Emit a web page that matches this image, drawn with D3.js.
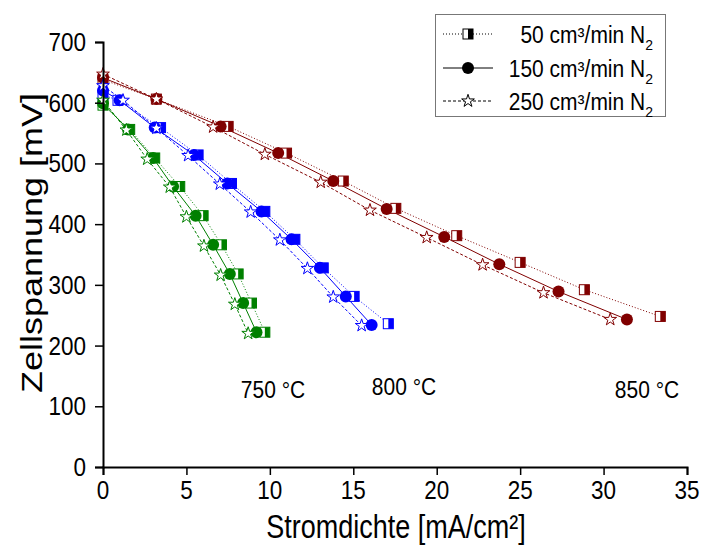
<!DOCTYPE html>
<html>
<head>
<meta charset="utf-8">
<script src="https://cdn.jsdelivr.net/npm/d3@7"></script>
<style>
  html, body { margin: 0; padding: 0; background: #fff; }
  svg { display: block; font-family: "Liberation Sans", Arial, sans-serif; }
</style>
</head>
<body>
<svg id="chart" width="701" height="545"></svg>
<script>
// Temperatures (one colour each) and N2 flow rates (one marker/line style each)
const temps = ["750 °C", "800 °C", "850 °C"];
const tempColors = ["#008000", "#0000ff", "#800000"];
const flows = ["50", "150", "250"];

// 750 °C
const g50_x  = [0, 1.6, 3.1, 4.6, 6.0, 7.1, 8.1, 8.9, 9.7];
const g50_y  = [596, 556, 509, 462, 414, 366, 318, 270, 222];
const g150_x = [0, 1.5, 3.0, 4.2, 5.55, 6.6, 7.6, 8.4, 9.2];
const g150_y = [599, 556, 509, 462, 414, 366, 318, 270, 222];
const g250_x = [0, 1.4, 2.65, 4.0, 5.0, 6.05, 7.05, 7.9, 8.7];
const g250_y = [604, 555, 507, 461, 412, 364, 316, 268, 220];

// 800 °C
const b50_x  = [0, 0.9, 3.45, 5.7, 7.7, 9.7, 11.5, 13.2, 15.05, 17.1];
const b50_y  = [613, 604, 559, 514, 467, 421, 375, 328, 281, 236];
const b150_x = [0, 1.0, 3.1, 5.45, 7.45, 9.5, 11.3, 13.0, 14.55, 16.1];
const b150_y = [620, 604, 559, 514, 467, 421, 375, 328, 281, 234];
const b250_x = [0, 1.2, 3.2, 5.1, 7.0, 8.85, 10.6, 12.25, 13.8, 15.5];
const b250_y = [628, 604, 558, 513, 466, 420, 374, 327, 280, 233];

// 850 °C
const r50_x  = [0, 3.2, 7.5, 11.0, 14.4, 17.55, 21.2, 25.0, 28.85, 33.4];
const r50_y  = [638, 606, 561, 517, 471, 426, 381, 337, 292, 248];
const r150_x = [0, 3.2, 7.05, 10.5, 13.8, 17.0, 20.45, 23.75, 27.3, 31.4];
const r150_y = [641, 606, 561, 517, 471, 425, 379, 334, 289, 243];
const r250_x = [0, 3.2, 6.6, 9.7, 13.05, 16.0, 19.4, 22.75, 26.4, 30.4];
const r250_y = [647, 606, 560, 515, 469, 423, 378, 333, 287, 243];

const xTicks = [0, 5, 10, 15, 20, 25, 30, 35];
const yTicks = [0, 100, 200, 300, 400, 500, 600, 700];

// series table: [temperature index, flow index, x values, y values]
const series = [
  [0, 0, g50_x, g50_y], [0, 1, g150_x, g150_y], [0, 2, g250_x, g250_y],
  [1, 0, b50_x, b50_y], [1, 1, b150_x, b150_y], [1, 2, b250_x, b250_y],
  [2, 0, r50_x, r50_y], [2, 1, r150_x, r150_y], [2, 2, r250_x, r250_y]
];

const svg = d3.select("#chart");
const x = d3.scaleLinear().domain([0, 35]).range([103, 687]);
const y = d3.scaleLinear().domain([0, 700]).range([467, 42]);

const dashes = ["1,2", null, "3,2"];
const K = 1.15; // vertical text stretch

// stretched text helper
function label(g, px, py, txt, size, anchor, k) {
  return g.append("text")
    .attr("transform", `translate(${px},${py}) scale(1,${k})`)
    .attr("text-anchor", anchor)
    .attr("font-size", size)
    .attr("fill", "#000")
    .text(txt);
}

// ---- lines ----
const lineGen = d3.line().x(d => x(d[0])).y(d => y(d[1]));
series.forEach(([ti, fi, xs, ys]) => {
  const pts = xs.map((v, i) => [v, ys[i]]);
  svg.append("path")
    .attr("d", lineGen(pts))
    .attr("fill", "none")
    .attr("stroke", tempColors[ti])
    .attr("stroke-width", 1)
    .attr("stroke-dasharray", dashes[fi]);
});

// ---- markers ----
function drawSquare(g, cx, cy, col) {
  const s = 10;
  g.append("rect").attr("x", cx - s / 2).attr("y", cy - s / 2).attr("width", s).attr("height", s)
    .attr("fill", "#fff").attr("stroke", col).attr("stroke-width", 1);
  g.append("rect").attr("x", cx).attr("y", cy - s / 2).attr("width", s / 2).attr("height", s)
    .attr("fill", col);
}
function drawCircle(g, cx, cy, col) {
  g.append("circle").attr("cx", cx).attr("cy", cy).attr("r", 6).attr("fill", col);
}
const starPath = d3.symbol(d3.symbolStar, 50)();
function drawStar(g, cx, cy, col) {
  g.append("path").attr("d", starPath).attr("transform", `translate(${cx},${cy})`)
    .attr("fill", "#fff").attr("stroke", col).attr("stroke-width", 1);
}
const drawers = [drawSquare, drawCircle, drawStar];

const mk = svg.append("g");
[0, 1, 2].forEach(fi => {
  series.filter(s => s[1] === fi).forEach(([ti, f, xs, ys]) => {
    xs.forEach((v, i) => drawers[fi](mk, x(v), y(ys[i]), tempColors[ti]));
  });
});

// ---- axes ----
const xAxis = svg.append("g").attr("transform", "translate(0,467)");
xAxis.call(d3.axisBottom(x).tickValues(d3.range(2.5, 35, 5)).tickSize(4).tickFormat(""));
xAxis.call(d3.axisBottom(x).tickValues(xTicks).tickSize(8).tickFormat(""));
const yAxis = svg.append("g").attr("transform", "translate(103,0)");
yAxis.call(d3.axisLeft(y).tickValues(d3.range(50, 700, 100)).tickSize(4).tickFormat(""));
yAxis.call(d3.axisLeft(y).tickValues(yTicks).tickSize(8).tickFormat(""));
svg.selectAll(".domain").attr("stroke", "#000").attr("stroke-width", 2);
svg.selectAll(".tick line").attr("stroke", "#000").attr("stroke-width", 1.5);

xTicks.forEach(t => label(svg, x(t), 499, t, 22.5, "middle", K));
yTicks.forEach(t => label(svg, 86, y(t) + 9, t, 22.5, "end", K));

// axis titles
label(svg, 396, 538, "Stromdichte [mA/cm²]", 27, "middle", 1.2);
svg.append("text")
  .attr("transform", "translate(42,243) rotate(-90) scale(1.2,1)")
  .attr("text-anchor", "middle").attr("font-size", 30).attr("fill", "#000")
  .text("Zellspannung [mV]");

// temperature labels
label(svg, 273, 398, temps[0], 21, "middle", K);
label(svg, 404, 395, temps[1], 21, "middle", K);
label(svg, 647, 398, temps[2], 21, "middle", K);

// ---- legend ----
const lg = svg.append("g");
lg.append("rect").attr("x", 435.5).attr("y", 14.5).attr("width", 230).attr("height", 102)
  .attr("fill", "#fff").attr("stroke", "#777").attr("stroke-width", 1);
const rowY = [34, 68, 101];
flows.forEach((f, i) => {
  lg.append("line").attr("x1", 443).attr("x2", 493).attr("y1", rowY[i]).attr("y2", rowY[i])
    .attr("stroke", "#000").attr("stroke-width", 1).attr("stroke-dasharray", dashes[i]);
  drawers[i](lg, 468, rowY[i], "#000");
  const t = lg.append("text")
    .attr("transform", `translate(653,${rowY[i] + 9}) scale(1,1.1)`)
    .attr("text-anchor", "end").attr("font-size", 21).attr("fill", "#000");
  t.append("tspan").text(`${f} cm³/min N`);
  t.append("tspan").attr("font-size", 14).attr("dy", 6).text("2");
});
</script>
</body>
</html>
